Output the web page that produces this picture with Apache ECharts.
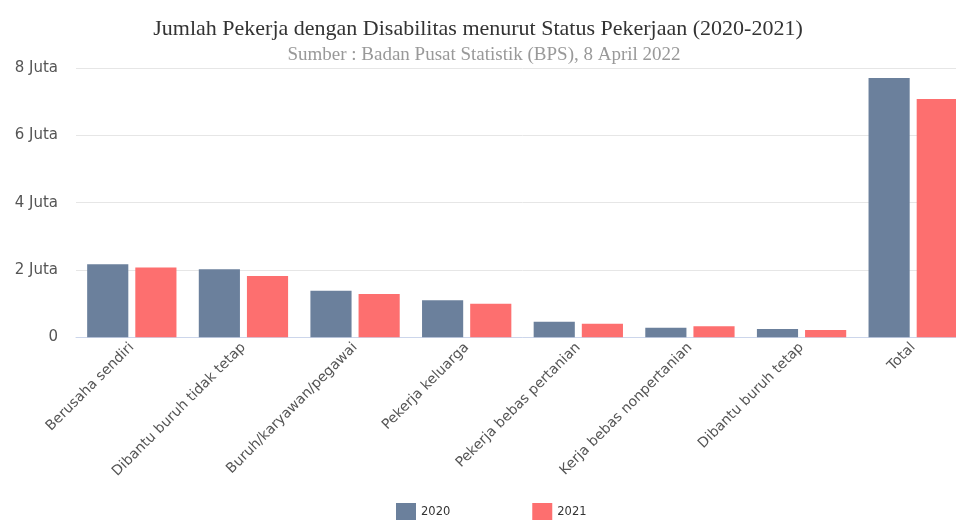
<!DOCTYPE html>
<html>
<head>
<meta charset="utf-8">
<script src="https://cdn.jsdelivr.net/npm/echarts@6/dist/echarts.min.js"></script>
<style>
html,body{margin:0;padding:0;background:#fff;overflow:hidden;width:956px;height:520px;}
#chart{width:970px;height:520px;}
</style>
</head>
<body>
<div id="chart"></div>
<script>
const categories = ["Berusaha sendiri", "Dibantu buruh tidak tetap", "Buruh/karyawan/pegawai", "Pekerja keluarga", "Pekerja bebas pertanian", "Kerja bebas nonpertanian", "Dibantu buruh tetap", "Total"];
const values2020 = [2170000, 2020000, 1385000, 1100000, 460000, 285000, 250000, 7700000];
const values2021 = [2070000, 1820000, 1290000, 1000000, 400000, 330000, 220000, 7080000];
const seriesNames = ["2020", "2021"];
const yTicks = [0, 2000000, 4000000, 6000000, 8000000];

const chart = echarts.init(document.getElementById('chart'));
chart.setOption({
  animation: false,
  backgroundColor: '#fff',
  title: [{
    text: 'Jumlah Pekerja dengan Disabilitas menurut Status Pekerjaan (2020-2021)',
    left: 473,
    textAlign: 'center',
    top: 13,
    textStyle: { fontFamily: 'Liberation Serif', fontSize: 22, fontWeight: 'normal', color: '#333' }
  }, {
    text: 'Sumber : Badan Pusat Statistik (BPS), 8 April 2022',
    left: 479,
    textAlign: 'center',
    top: 41,
    textStyle: { fontFamily: 'Liberation Serif', fontSize: 19, fontWeight: 'normal', color: '#999' }
  }],
  legend: {
    data: seriesNames,
    left: 391,
    top: 498,
    itemWidth: 20,
    itemHeight: 18,
    itemGap: 82,
    icon: 'rect',
    textStyle: { fontFamily: 'DejaVu Sans', fontSize: 11.5, color: '#333' }
  },
  grid: { left: 76, right: 1, top: 68, bottom: 182.7, containLabel: false },
  xAxis: {
    type: 'category',
    data: categories,
    axisLine: { lineStyle: { color: '#ccd6eb' } },
    axisTick: { alignWithLabel: true, length: 8, lineStyle: { color: '#ccd6eb' } },
    axisLabel: { rotate: 45, interval: 0, margin: 8, fontFamily: 'DejaVu Sans', fontSize: 14, color: '#555' }
  },
  yAxis: {
    type: 'value',
    min: yTicks[0],
    max: yTicks[yTicks.length - 1],
    interval: yTicks[1] - yTicks[0],
    axisLine: { show: false },
    axisTick: { show: false },
    splitLine: { lineStyle: { color: '#e6e6e6' } },
    axisLabel: {
      margin: 18,
      fontFamily: 'DejaVu Sans', fontSize: 15, color: '#555',
      formatter: v => v === 0 ? '0' : (v / 1000000) + ' Juta'
    }
  },
  series: [
    { name: seriesNames[0], type: 'bar', data: values2020, barGap: '17%', barCategoryGap: '20%',
      itemStyle: { color: '#6b809c' } },
    { name: seriesNames[1], type: 'bar', data: values2021,
      itemStyle: { color: '#fd6f6f' } }
  ]
});
</script>
</body>
</html>
